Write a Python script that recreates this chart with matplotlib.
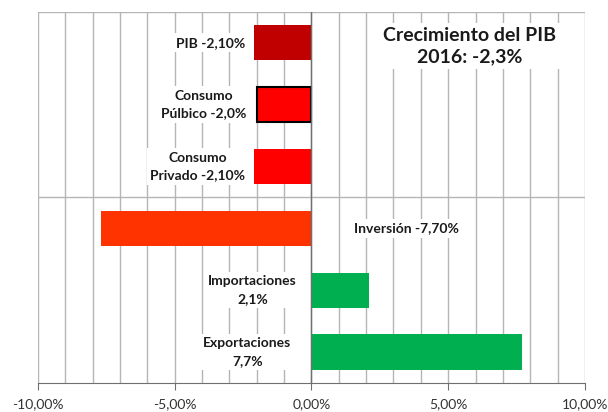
import matplotlib.pyplot as plt

# datos (de arriba a abajo)
categorias = ["PIB", "Consumo Público", "Consumo Privado", "Inversión", "Importaciones", "Exportaciones"]
valores = [-2.10, -2.0, -2.10, -7.70, 2.1, 7.7]
etiquetas = ["PIB -2,10%", "Consumo\nPúlbico -2,0%", "Consumo\nPrivado -2,10%",
             "Inversión -7,70%", "Importaciones\n2,1%", "Exportaciones\n7,7%"]
colores = ["#C00000", "#FF0000", "#FF0000", "#FF3300", "#00B050", "#00B050"]
ticks_x = [-10, -5, 0, 5, 10]
ticks_lbl = ["-10,00%", "-5,00%", "0,00%", "5,00%", "10,00%"]

plt.rcParams['font.family'] = ['Lato', 'DejaVu Sans']

fig = plt.figure(figsize=(6.08, 4.12), dpi=100)
ax = fig.add_axes([0.0625, 0.0704, 0.8995, 0.9006])

n = len(categorias)
ypos = [n - 0.5 - i for i in range(n)]

# rejilla
for x in range(-10, 11):
    ax.axvline(x, color="#B5B5B5", lw=1, zorder=0)
ax.axhline(n / 2, color="#B5B5B5", lw=1, zorder=0)
ax.axhline(n, color="#B5B5B5", lw=1, zorder=0)

for i in range(n):
    ec = "black" if i == 1 else "none"
    ax.barh(ypos[i], valores[i], height=0.57, color=colores[i], edgecolor=ec,
            linewidth=1.5, zorder=2)

ax.axvline(0, color="#6F6F6F", lw=1, zorder=3)

caja = dict(facecolor="white", edgecolor="none", pad=2.5)
# posiciones de etiquetas (centro x)
pos_lbl = [-3.69, -3.95, -4.15, 3.48, -2.15, -2.34]
for i in range(n):
    ax.text(pos_lbl[i], ypos[i], etiquetas[i], ha="center", va="center",
            fontsize=10, fontweight="bold", color="#1A1A1A", bbox=caja,
            linespacing=1.55, zorder=4)

ax.text(5.8, 5.45, "Crecimiento del PIB\n2016: -2,3%", ha="center", va="center",
        fontsize=14, fontweight="bold", color="#1A1A1A", bbox=caja,
        linespacing=1.3, zorder=4)

ax.set_xlim(-10, 10)
ax.set_ylim(0, n)
ax.set_xticks(ticks_x)
ax.set_xticklabels(ticks_lbl, fontsize=10, color="#333333")
ax.set_yticks([])
ax.tick_params(axis="x", direction="out", length=5, color="#6F6F6F", pad=6)
for s in ["top", "right", "left"]:
    ax.spines[s].set_visible(False)
ax.spines["bottom"].set_color("#6F6F6F")

fig.savefig("out.png", dpi=100)
